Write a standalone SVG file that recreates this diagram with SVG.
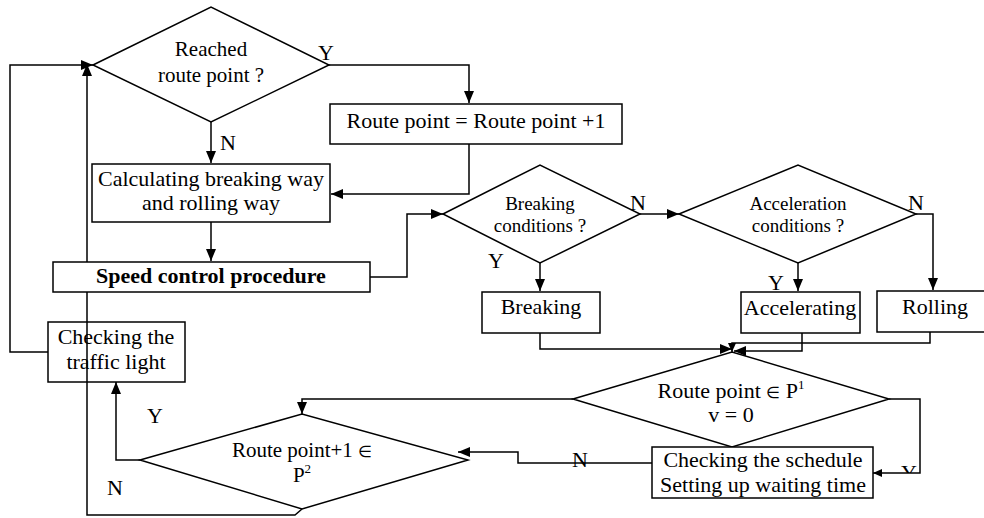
<svg xmlns="http://www.w3.org/2000/svg" width="984" height="518" viewBox="0 0 984 518">
<style>
.s{fill:none;stroke:#000;stroke-width:1.5}
.w{fill:#fff;stroke:#000;stroke-width:1.5}
text{font-family:"Liberation Serif","Times New Roman",serif;font-size:22px;fill:#000;text-anchor:middle}
.sm{font-size:19px}
.b{font-weight:bold}
.e{font-size:16px}
.sup{font-size:13px}
.c{fill:none;stroke:#000;stroke-width:1.5}
</style>
<defs>
<marker id="a" markerUnits="userSpaceOnUse" markerWidth="12" markerHeight="10" refX="12" refY="5" orient="auto"><path d="M0,0 L12,5 L0,10 z" fill="#000"/></marker>
<marker id="as" markerUnits="userSpaceOnUse" markerWidth="9" markerHeight="8" refX="9" refY="4" orient="auto"><path d="M0,0 L9,4 L0,8 z" fill="#000"/></marker>
<clipPath id="yc"><rect x="890" y="440" width="40" height="33"/></clipPath>
</defs>
<rect width="984" height="518" fill="#fff"/>
<g id="connectors">
<path class="c" d="M329,65 H469 V103" marker-end="url(#a)"/>
<path class="c" d="M211,122 V163" marker-end="url(#a)"/>
<path class="c" d="M469,144 V194 H331" marker-end="url(#a)"/>
<path class="c" d="M211,222 V261" marker-end="url(#a)"/>
<path class="c" d="M370,277 H407 V214 H443" marker-end="url(#a)"/>
<path class="c" d="M640,214 H679" marker-end="url(#a)"/>
<path class="c" d="M540,263 V291" marker-end="url(#a)"/>
<path class="c" d="M798,263 V291" marker-end="url(#a)"/>
<path class="c" d="M916,214 H933 V290" marker-end="url(#a)"/>
<path class="c" d="M540,333 V349 H732" marker-end="url(#a)"/>
<path class="c" d="M802,333 V351 H734" marker-end="url(#a)"/>
<path class="c" d="M930,332 V343 H732 V352" marker-end="url(#as)"/>
<path class="c" d="M573,399 H302 V414" marker-end="url(#a)"/>
<path class="c" d="M889,399 H920 V473 H873" marker-end="url(#as)"/>
<path class="c" d="M652,463 H518 V452 H458" marker-end="url(#a)"/>
<path class="c" d="M140,460 H116 V382" marker-end="url(#a)"/>
<path class="c" d="M302,509 L295,515 H87 V64" marker-end="url(#a)"/>
<path class="c" d="M48,352 H10 V65 H93" marker-end="url(#a)"/>
</g>
<g id="n_reached"><polygon class="s" points="93,65 211,7 329,65 211,122"/><text x="211" y="56" style="font-size:21px">Reached</text><text x="211" y="82" style="font-size:21px">route point ?</text></g>
<g id="n_inc"><rect class="w" x="330" y="104" width="292" height="40"/><text x="476" y="128">Route point = Route point +1</text></g>
<g id="n_calc"><rect class="w" x="92" y="164" width="238" height="58"/><text x="211" y="186">Calculating breaking way</text><text x="211" y="210">and rolling way</text></g>
<g id="n_speed"><rect class="w" x="53" y="262" width="317" height="30"/><text class="b" x="211" y="283">Speed control procedure</text></g>
<g id="n_light"><rect class="s" x="48" y="322" width="137" height="60"/><text x="116" y="344">Checking the</text><text x="116" y="369">traffic light</text></g>
<g id="n_brk_cond"><polygon class="s" points="443,214 540,165 640,214 540,263"/><text class="sm" x="540" y="210">Breaking</text><text class="sm" x="540" y="232">conditions ?</text></g>
<g id="n_acc_cond"><polygon class="s" points="679,214 798,165 916,214 798,263"/><text class="sm" x="798" y="210">Acceleration</text><text class="sm" x="798" y="232">conditions ?</text></g>
<g id="n_breaking"><rect class="w" x="482" y="292" width="118" height="41"/><text x="541" y="314">Breaking</text></g>
<g id="n_accel"><rect class="w" x="741" y="292" width="119" height="41"/><text x="800" y="315">Accelerating</text></g>
<g id="n_rolling"><rect class="w" x="877" y="291" width="118" height="41"/><text x="935" y="314">Rolling</text></g>
<g id="n_p1"><polygon class="s" points="573,399 732,352 889,399 732,447"/><text x="731" y="398">Route point <tspan class="e">∈</tspan> P<tspan class="sup" dy="-9">1</tspan></text><text x="731" y="422">v = 0</text></g>
<g id="n_sched"><rect class="w" x="652" y="447" width="221" height="51"/><text x="763" y="467">Checking the schedule</text><text x="763" y="492">Setting up waiting time</text></g>
<g id="n_p2"><polygon class="s" points="140,460 302,414 468,460 302,509"/><text x="302" y="457" style="font-size:21px">Route point+1 <tspan class="e">∈</tspan></text><text x="302" y="482" style="font-size:21px">P<tspan class="sup" dy="-9">2</tspan></text></g>
<g id="labels">
<text x="326" y="60">Y</text>
<text x="228" y="150">N</text>
<text x="638" y="210">N</text>
<text x="916" y="210">N</text>
<text x="496" y="268">Y</text>
<text x="776" y="290">Y</text>
<text x="155" y="423">Y</text>
<text x="115" y="495">N</text>
<text x="580" y="467">N</text>
<text x="909" y="480" clip-path="url(#yc)">Y</text>
</g>
</svg>
